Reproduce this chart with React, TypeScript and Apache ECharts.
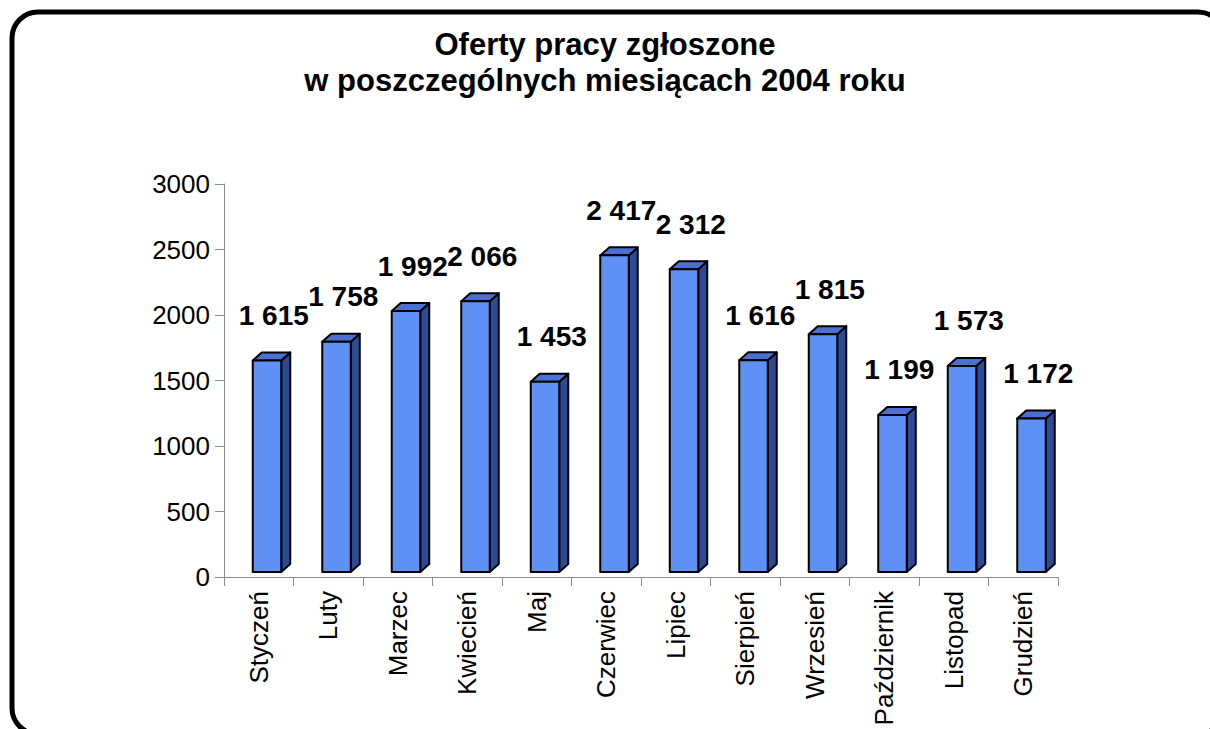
import React, { useEffect, useRef } from "react";
import * as echarts from "echarts";

const titleLines = ["Oferty pracy zgłoszone", "w poszczególnych miesiącach 2004 roku"];
const months = [
  "Styczeń", "Luty", "Marzec", "Kwiecień", "Maj", "Czerwiec",
  "Lipiec", "Sierpień", "Wrzesień", "Październik", "Listopad", "Grudzień",
];
const offers = [1615, 1758, 1992, 2066, 1453, 2417, 2312, 1616, 1815, 1199, 1573, 1172];
const yMin = 0;
const yMax = 3000;
const yStep = 500;

const FONT = '"Liberation Sans", Arial, Helvetica, sans-serif';

function fmt(v: number): string {
  const s = String(v);
  return s.length > 3 ? s.slice(0, s.length - 3) + " " + s.slice(-3) : s;
}

export default function App() {
  const ref = useRef<HTMLDivElement>(null);
  useEffect(() => {
    if (!ref.current) return;
    const chart = echarts.init(ref.current, null, { renderer: "svg" });
    const dx = 9;
    const dy = 8;
    const lift = 5;
    chart.setOption({
      animation: false,
      backgroundColor: "#ffffff",
      title: {
        text: titleLines.join("\n"),
        left: "center",
        top: 21,
        textStyle: {
          fontFamily: FONT,
          fontSize: 31,
          fontWeight: "bold",
          color: "#000",
          lineHeight: 36,
        },
      },
      graphic: [
        {
          type: "rect",
          shape: { x: 12, y: 12, width: 1212, height: 722, r: 26 },
          style: { fill: "none", stroke: "#000", lineWidth: 5 },
          silent: true,
          z: 100,
        },
      ],
      grid: { left: 224, right: 152, top: 184, bottom: 152 },
      xAxis: {
        type: "category",
        data: months,
        boundaryGap: true,
        axisLine: { lineStyle: { color: "#8c8c8c", width: 1 } },
        axisTick: { show: true, length: 9, alignWithLabel: false, lineStyle: { color: "#8c8c8c" } },
        axisLabel: {
          rotate: 90,
          interval: 0,
          margin: 14,
          fontFamily: FONT,
          fontSize: 26,
          color: "#000",
        },
      },
      yAxis: {
        type: "value",
        min: yMin,
        max: yMax,
        interval: yStep,
        splitLine: { show: false },
        axisLine: { show: true, lineStyle: { color: "#8c8c8c", width: 1 } },
        axisTick: { show: true, length: 9, lineStyle: { color: "#8c8c8c" } },
        axisLabel: {
          margin: 14,
          fontFamily: FONT,
          fontSize: 26,
          color: "#000",
          formatter: (v: number) => String(v),
        },
      },
      series: [
        {
          type: "custom",
          data: offers.map((v, i) => [i, v]),
          encode: { x: 0, y: 1 },
          renderItem: (params: any, api: any) => {
            const i = api.value(0);
            const v = api.value(1);
            const top = api.coord([i, v]);
            const base = api.coord([i, 0]);
            const cx = top[0];
            const x0 = cx - 6;
            const x1 = cx + 22.5;
            const yt = top[1] - lift;
            const yb = base[1] - lift;
            const stroke = { stroke: "#000", lineWidth: 2, lineJoin: "round" };
            return {
              type: "group",
              children: [
                {
                  type: "polygon",
                  shape: { points: [[x1, yb], [x1, yt], [x1 + dx, yt - dy], [x1 + dx, yb - dy]] },
                  style: { fill: "#2d4b94", ...stroke },
                },
                {
                  type: "polygon",
                  shape: { points: [[x0, yt], [x1, yt], [x1 + dx, yt - dy], [x0 + dx, yt - dy]] },
                  style: { fill: "#4a70d2", ...stroke },
                },
                {
                  type: "rect",
                  shape: { x: x0, y: yt, width: x1 - x0, height: yb - yt },
                  style: { fill: "#5e90f5", ...stroke },
                },
                {
                  type: "text",
                  style: {
                    text: fmt(v),
                    x: cx + 15,
                    y: top[1] - 50,
                    align: "center",
                    verticalAlign: "middle",
                    font: `bold 28px ${FONT}`,
                    fill: "#000",
                  },
                },
              ],
            };
          },
        },
      ],
    });
    return () => chart.dispose();
  }, []);
  return (
    <div
      ref={ref}
      style={{ position: "absolute", left: 0, top: 0, width: 1210, height: 729 }}
    />
  );
}
